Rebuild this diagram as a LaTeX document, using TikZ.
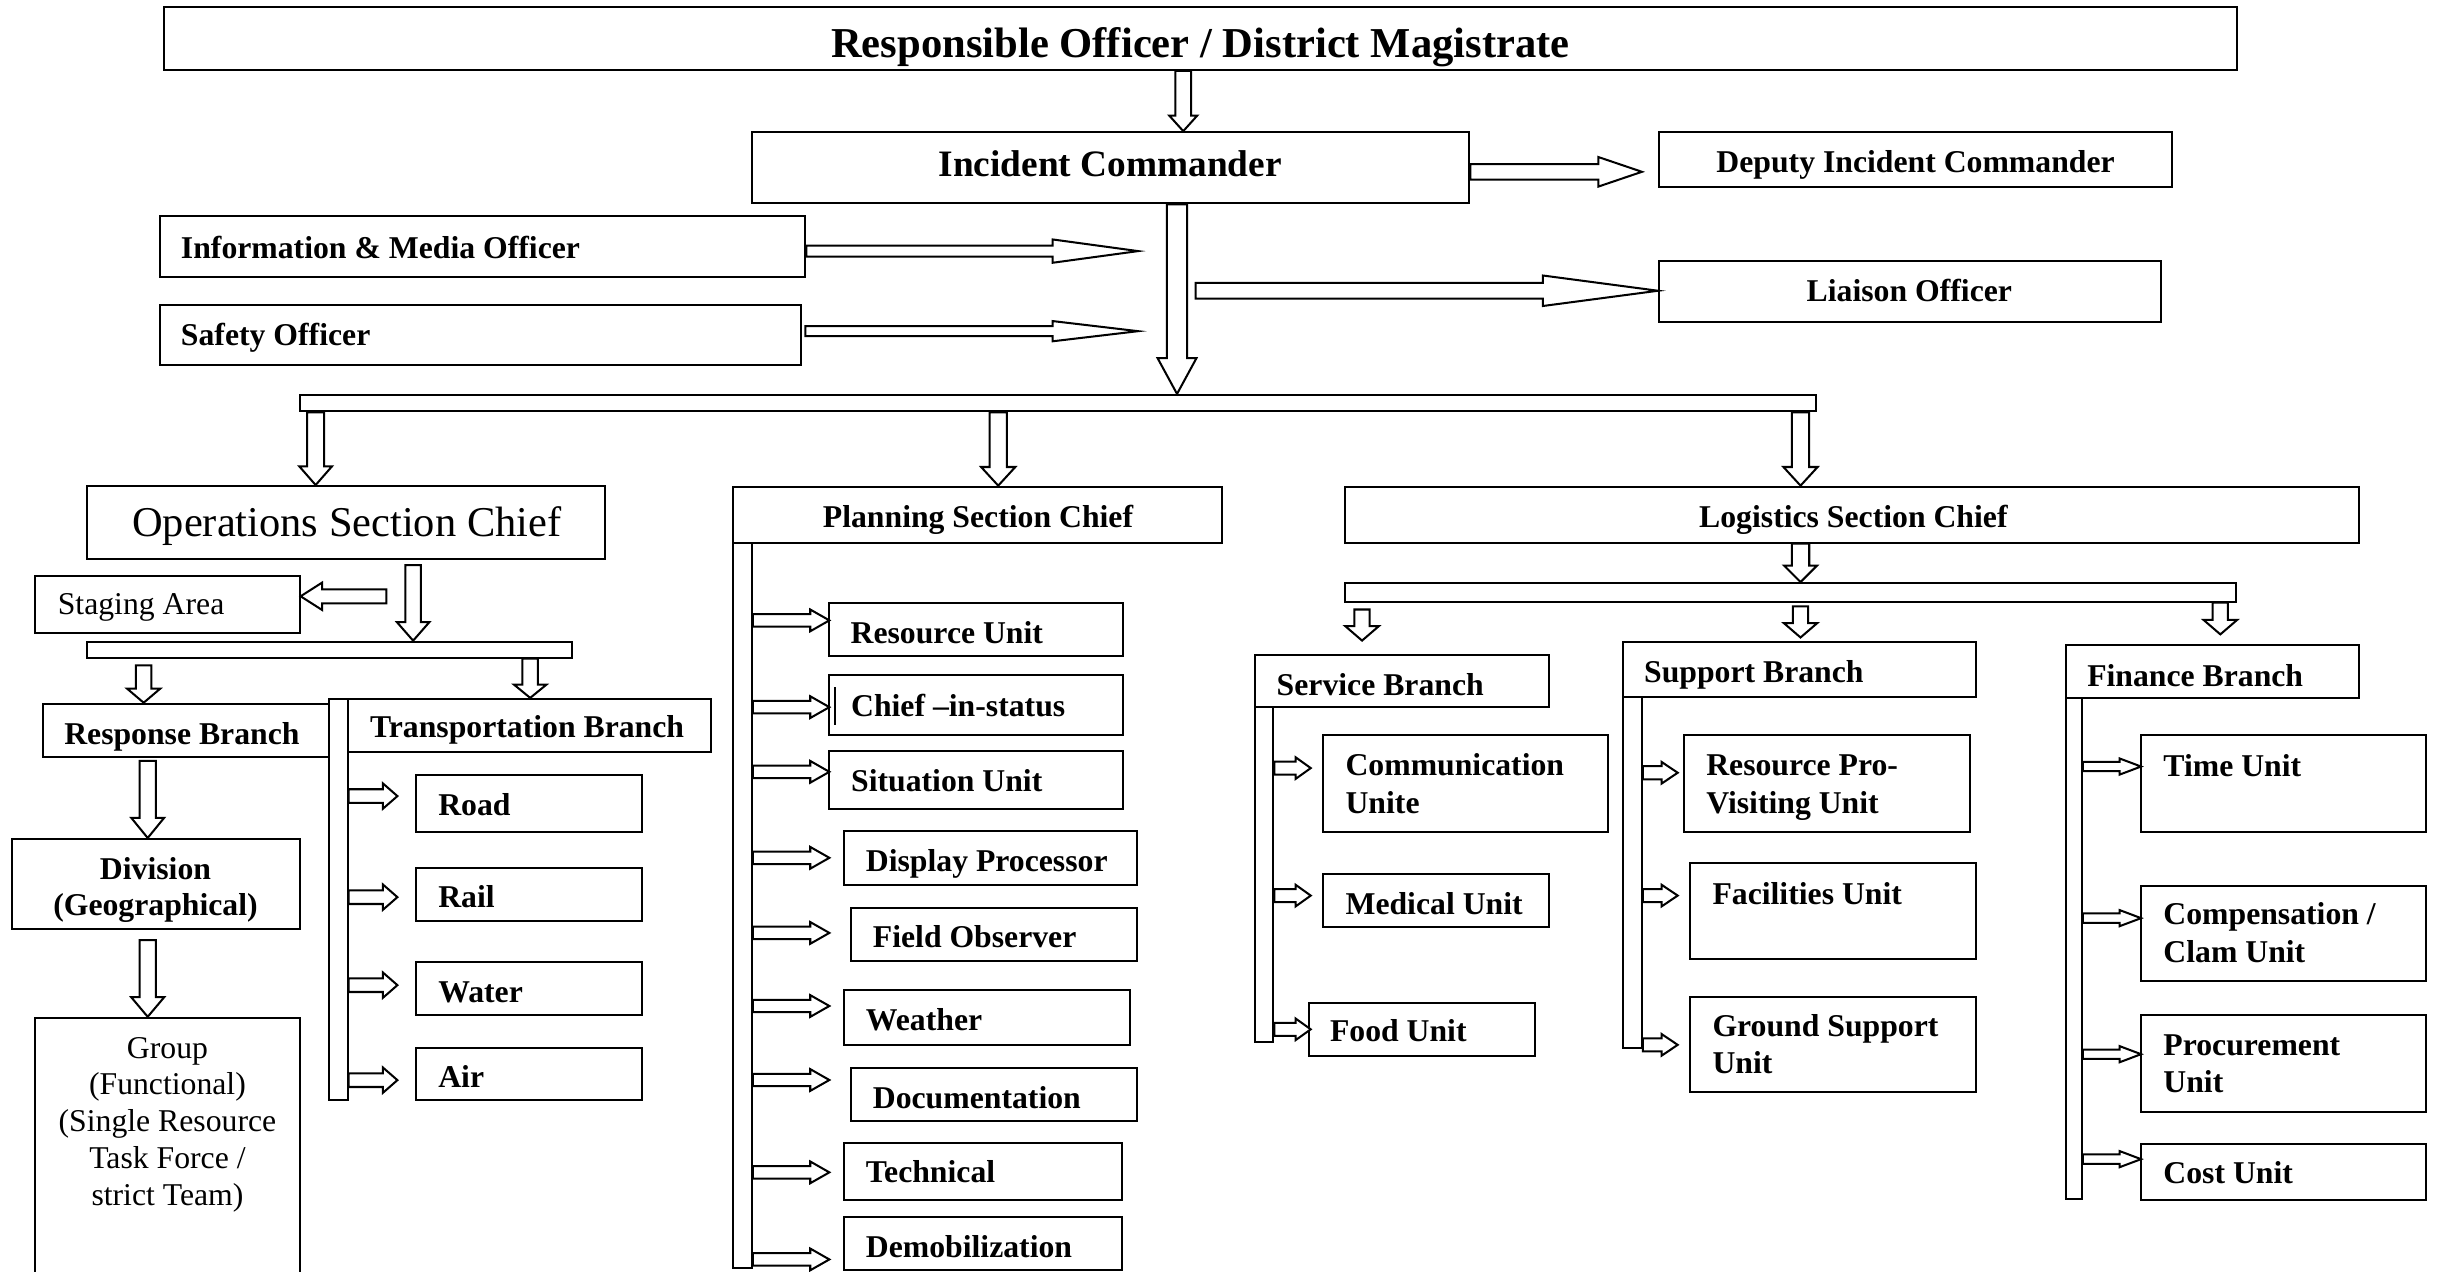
\documentclass[tikz,border=0pt]{standalone}
\usepackage{fontspec}
\setmainfont{Liberation Serif}
\usetikzlibrary{fit,calc}
\newcommand\fb{\fontsize{10.2}{12}\selectfont\bfseries}
\newcommand\fr{\fontsize{10.2}{12}\selectfont}
\newcommand\blkdown[5]{\draw[blk] let \p1=#1, \p2=#2 in (\x1-#3,\y1) -- (\x1-#3,\y2+#5) -- (\x1-#4,\y2+#5) -- (\x1,\y2) -- (\x1+#4,\y2+#5) -- (\x1+#3,\y2+#5) -- (\x1+#3,\y1) -- cycle;}
\newcommand\blkright[5]{\draw[blk] let \p1=#1, \p2=#2 in (\x1,\y1+#3) -- (\x2-#5,\y1+#3) -- (\x2-#5,\y1+#4) -- (\x2,\y1) -- (\x2-#5,\y1-#4) -- (\x2-#5,\y1-#3) -- (\x1,\y1-#3) -- cycle;}
\newcommand\blkleft[5]{\draw[blk] let \p1=#1, \p2=#2 in (\x1,\y1+#3) -- (\x2+#5,\y1+#3) -- (\x2+#5,\y1+#4) -- (\x2,\y1) -- (\x2+#5,\y1-#4) -- (\x2+#5,\y1-#3) -- (\x1,\y1-#3) -- cycle;}
\tikzset{
  bx/.style={draw, line width=0.65pt, inner sep=0pt, fit={#1}},
  blk/.style={draw, fill=white, line width=0.65pt, line join=miter},
  lt/.style={inner sep=0pt, anchor=base west, font=\fb},
  ct/.style={inner sep=0pt, anchor=base, font=\fb},
}
\begin{document}
\begin{tikzpicture}[x=0.5pt,y=-0.5pt]
\fill[white] (0,0) rectangle (1568,818);
\useasboundingbox (0,0) rectangle (1568,818);

% ---------- top level ----------
\node[bx={(105.6,4.3)(1439,45)}] (top) {};
\node[ct, font=\fontsize{13.7}{16}\selectfont\bfseries] (ttl) at (772,37) {Responsible Officer / District Magistrate};
\node[bx={(483.7,85)(945,130.8)}] (ic) {};
\node[ct, font=\fontsize{12}{14}\selectfont\bfseries] (tic) at (714,113.6) {Incident Commander};
\node[bx={(1067,85)(1397,120.5)}] (dep) {};
\node[ct] (tdep) at (1232,111) {Deputy Incident Commander};
\node[bx={(103,139)(518,178)}] (info) {};
\node[lt] (tinfo) at (116,166) {Information \& Media Officer};
\node[bx={(103,196)(515,235)}] (safety) {};
\node[lt] (tsaf) at (116,222) {Safety Officer};
\node[bx={(1067,168)(1390,207)}] (liaison) {};
\node[ct] (tlia) at (1228,194) {Liaison Officer};
\node[bx={(193,254)(1168,264.5)}] (bar1) {};

% ---------- sections ----------
\node[bx={(56,312.6)(389,359.3)}] (ops) {};
\node[ct, font=\fontsize{13.65}{16}\selectfont] (tops) at (223,345.3) {Operations Section Chief};
\node[bx={(471.6,313)(786,349)}] (plan) {};
\node[ct] (tplan) at (629,339) {Planning Section Chief};
\node[bx={(865,313)(1517,349)}] (log) {};
\node[ct] (tlog) at (1192,339) {Logistics Section Chief};

% ---------- operations ----------
\node[bx={(22.8,370.5)(192.7,407)}] (staging) {};
\node[lt, font=\fr] (tstg) at (36.8,395.2) {Staging Area};
\node[bx={(56,412.7)(368,423)}] (bar2) {};
\node[bx={(27.4,452.6)(211.4,486.9)}] (resp) {};
\node[ct] (tresp) at (117,478.8) {Response Branch};
\node[bx={(211.4,449.5)(223.5,707.7)}] (ttrunk) {};
\node[bx={(223.5,449.5)(457.3,483.4)}] (trans) {};
\node[ct] (ttrans) at (339,474.6) {Transportation Branch};
\node[bx={(267.5,498.5)(413,534.8)}] (road) {};
\node[lt] (troad) at (281.5,524.6) {Road};
\node[bx={(267.5,558.5)(413,592.4)}] (rail) {};
\node[lt] (trail) at (281.5,583.6) {Rail};
\node[bx={(267.5,618.6)(413,652.9)}] (water) {};
\node[lt] (twater) at (281.5,644.8) {Water};
\node[bx={(267.5,673.8)(413,707.7)}] (air) {};
\node[lt] (tair) at (281.5,699.3) {Air};
\node[bx={(7.8,539.6)(192.7,597.6)}] (div) {};
\node[ct] (tdiv1) at (100,565.4) {Division};
\node[ct] (tdiv2) at (100,588.9) {(Geographical)};
\node[bx={(22.8,654.6)(192.7,845)}] (group) {};
\node[ct, font=\fr] (tg1) at (107.7,680.8) {Group};
\node[ct, font=\fr] (tg2) at (107.7,704.2) {(Functional)};
\node[ct, font=\fr] (tg3) at (107.7,728) {(Single Resource};
\node[ct, font=\fr] (tg4) at (107.7,751.7) {Task Force /};
\node[ct, font=\fr] (tg5) at (107.7,775.2) {strict Team)};

% ---------- planning ----------
\node[bx={(471.6,349)(483.5,815.6)}] (ptrunk) {};
\node[bx={(533.4,388)(722,422)}] (resu) {};
\node[lt] (tresu) at (546.7,414) {Resource Unit};
\node[bx={(533.4,434.4)(722,473)}] (chief) {};
\node[lt] (tchief) at (547,460.5) {Chief –in-status};
\draw[line width=0.9pt] (537,442) -- (537,466);
\node[bx={(533.4,483)(722,520)}] (situ) {};
\node[lt] (tsitu) at (547,509) {Situation Unit};
\node[bx={(543,534.6)(731.5,569.3)}] (disp) {};
\node[lt] (tdisp) at (556.5,560.5) {Display Processor};
\node[bx={(547.5,584)(731.5,618)}] (field) {};
\node[lt] (tfield) at (561,609.5) {Field Observer};
\node[bx={(543,637)(727,672)}] (weath) {};
\node[lt] (tweath) at (556.5,663) {Weather};
\node[bx={(547.5,687)(731.5,721)}] (docu) {};
\node[lt] (tdocu) at (561,713) {Documentation};
\node[bx={(543,735)(721.5,771.5)}] (tech) {};
\node[lt] (ttech) at (556.5,760.5) {Technical};
\node[bx={(543,783)(721.5,817)}] (demob) {};
\node[lt] (tdemob) at (556.5,808.5) {Demobilization};

% ---------- logistics ----------
\node[bx={(865,375)(1438,387)}] (bar3) {};
\node[bx={(807,421)(996,455)}] (serv) {};
\node[lt] (tserv) at (820.7,447.4) {Service Branch};
\node[bx={(807,455)(819,670)}] (strunk) {};
\node[bx={(851,473)(1034,535)}] (comm) {};
\node[lt] (tcomm1) at (865,499) {Communication};
\node[lt] (tcomm2) at (865,523.4) {Unite};
\node[bx={(851,562)(996,596)}] (med) {};
\node[lt] (tmed) at (865,588) {Medical Unit};
\node[bx={(842,645)(987,679)}] (food) {};
\node[lt] (tfood) at (855,670) {Food Unit};

\node[bx={(1044,413)(1271,448)}] (supp) {};
\node[lt] (tsupp) at (1057,439) {Support Branch};
\node[bx={(1044,448)(1056,674)}] (utrunk) {};
\node[bx={(1083,473)(1267,535)}] (rpro) {};
\node[lt] (trpro1) at (1097,499) {Resource Pro-};
\node[lt] (trpro2) at (1097,523.4) {Visiting Unit};
\node[bx={(1087,555)(1271,617)}] (faci) {};
\node[lt] (tfaci) at (1101,581.6) {Facilities Unit};
\node[bx={(1087,641)(1271,702)}] (grnd) {};
\node[lt] (tgrnd1) at (1101,666.3) {Ground Support};
\node[lt] (tgrnd2) at (1101,690.6) {Unit};

\node[bx={(1329,415)(1517,449)}] (fin) {};
\node[lt] (tfin) at (1342,441.7) {Finance Branch};
\node[bx={(1329,449)(1339,771)}] (ftrunk) {};
\node[bx={(1377,473)(1560,535)}] (time) {};
\node[lt] (ttime) at (1391,499.7) {Time Unit};
\node[bx={(1377,570)(1560,631)}] (comp) {};
\node[lt] (tcomp1) at (1391,594.6) {Compensation /};
\node[lt] (tcomp2) at (1391,619) {Clam Unit};
\node[bx={(1377,653)(1560,715)}] (proc) {};
\node[lt] (tproc1) at (1391,678.9) {Procurement};
\node[lt] (tproc2) at (1391,702.9) {Unit};
\node[bx={(1377,735.5)(1560,771.5)}] (cost) {};
\node[lt] (tcost) at (1391,761.2) {Cost Unit};

% ---------- arrows ----------
\coordinate (xA) at (761,0);
\blkdown{(top.south -| xA)}{(ic.north)}{2.5pt}{4.5pt}{5pt}
\coordinate (dtip) at (1056,110.5);
\blkright{(ic.east |- dtip)}{(dtip)}{2.5pt}{4.75pt}{14pt}
\coordinate (xC) at (757,0);
\blkdown{(ic.south -| xC)}{(bar1.north)}{3.25pt}{6.25pt}{11.5pt}
\coordinate (itip) at (732,161.5);
\blkright{(info.east |- itip)}{(itip)}{1.75pt}{3.75pt}{27.5pt}
\coordinate (sstart) at (518,213);
\coordinate (stip) at (732,213);
\blkright{(sstart)}{(stip)}{1.6pt}{3.25pt}{27.5pt}
\coordinate (lstart) at (769,187);
\blkright{(lstart)}{(liaison.west)}{2.5pt}{4.9pt}{37pt}

\coordinate (xO) at (203,0);
\coordinate (xP) at (642,0);
\coordinate (xL) at (1158,0);
\blkdown{(bar1.south -| xO)}{(ops.north)}{2.75pt}{5.25pt}{6pt}
\blkdown{(bar1.south -| xP)}{(plan.north)}{2.75pt}{5.5pt}{6pt}
\blkdown{(bar1.south -| xL)}{(log.north)}{2.75pt}{5.5pt}{6pt}

\coordinate (stg0) at (248.5,383.5);
\blkleft{(stg0)}{(staging.east)}{2.25pt}{4.4pt}{6.9pt}
\coordinate (ob0) at (265.7,363.4);
\blkdown{(ob0)}{(bar2.north)}{2.5pt}{5.25pt}{6pt}
\coordinate (rb0) at (92.4,428);
\blkdown{(rb0)}{(resp.north)}{2.5pt}{5.3pt}{4.5pt}
\coordinate (xT) at (341,0);
\blkdown{(bar2.south -| xT)}{(trans.north)}{2.5pt}{5.2pt}{4.25pt}
\coordinate (dv0) at (95,489.3);
\blkdown{(dv0)}{(div.north)}{2.6pt}{5.3pt}{6.5pt}
\coordinate (gp0) at (95,604.6);
\blkdown{(gp0)}{(group.north)}{2.6pt}{5.3pt}{6.3pt}

\foreach \k/\yy in {1/512,2/577,3/633.6,4/694.7}{
  \coordinate (t\k) at (255.6,\yy);
  \blkright{(ttrunk.east |- t\k)}{(t\k)}{2.2pt}{4.1pt}{4.7pt}
}
\foreach \k/\yy in {1/399,2/454.8,3/496.4,4/551.7,5/600,6/647,7/694.6,8/754,9/810}{
  \coordinate (p\k) at (533.4,\yy);
  \blkright{(ptrunk.east |- p\k)}{(p\k)}{2pt}{3.5pt}{6.15pt}
}

\blkdown{(log.south -| xL)}{(bar3.north)}{2.8pt}{5.3pt}{5.3pt}
\coordinate (sv0) at (876,392);
\coordinate (sv1) at (876,412);
\blkdown{(sv0)}{(sv1)}{2.45pt}{5.4pt}{4.65pt}
\coordinate (sp0) at (1158,390);
\coordinate (sp1) at (1158,410);
\blkdown{(sp0)}{(sp1)}{2.45pt}{5.4pt}{4.65pt}
\coordinate (xF) at (1428,0);
\coordinate (fn1) at (1428,408);
\blkdown{(bar3.south -| xF)}{(fn1)}{2.45pt}{5.4pt}{4.65pt}

\foreach \k/\yy in {1/494,2/576,3/662}{
  \coordinate (s\k) at (843,\yy);
  \blkright{(strunk.east |- s\k)}{(s\k)}{2.1pt}{3.5pt}{4.9pt}
}
\foreach \k/\yy in {1/497,2/576,3/672}{
  \coordinate (u\k) at (1079,\yy);
  \blkright{(utrunk.east |- u\k)}{(u\k)}{2.1pt}{3.5pt}{5.2pt}
}
\foreach \k/\yy in {1/493,2/590.5,3/678,4/745.5}{
  \coordinate (f\k) at (1377,\yy);
  \blkright{(ftrunk.east |- f\k)}{(f\k)}{1.5pt}{2.6pt}{6.9pt}
}
\end{tikzpicture}
\end{document}
